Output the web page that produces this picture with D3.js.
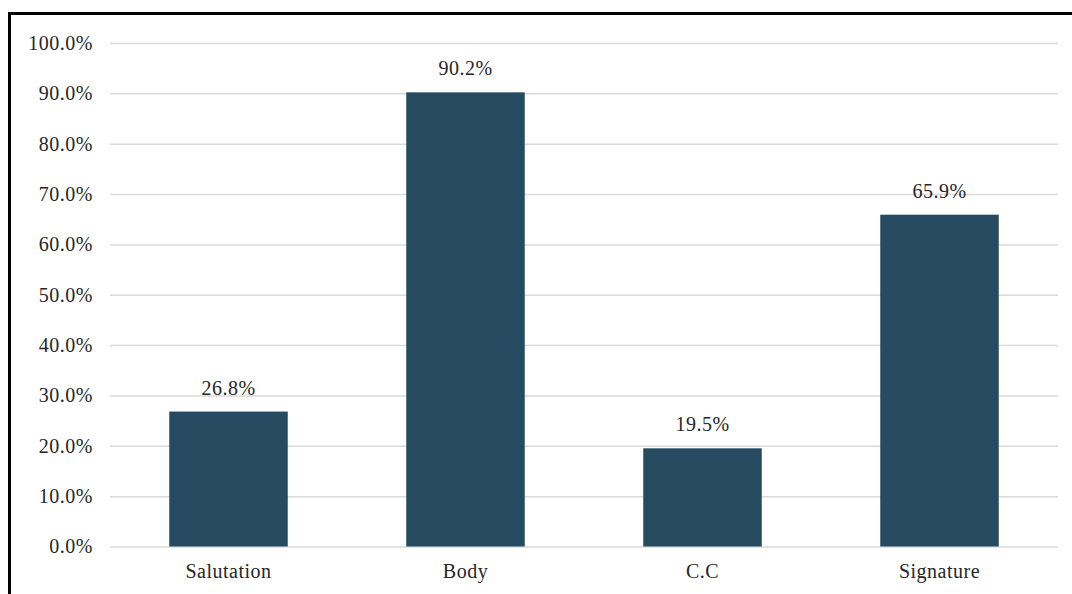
<!DOCTYPE html>
<html>
<head>
<meta charset="utf-8">
<script src="https://cdn.jsdelivr.net/npm/d3@7"></script>
<style>
  html, body { margin: 0; padding: 0; background: #fff; }
  svg { display: block; }
  text { font-family: "Liberation Serif", "Times New Roman", serif; }
</style>
</head>
<body>
<svg id="chart" width="1072" height="594"></svg>
<script>
// Share of items containing each letter part
const categories = ["Salutation", "Body", "C.C", "Signature"];
const values = [26.8, 90.2, 19.5, 65.9];
const tickValues = [0, 10, 20, 30, 40, 50, 60, 70, 80, 90, 100];

const svg = d3.select("#chart");
const margin = { left: 110, right: 14, top: 43, bottom: 47.5 };
const W = 1072, H = 594;
const fontSize = 20, spacing = "0.5px";

// frame around the chart area (left and top edges fall inside the page)
svg.append("rect")
  .attr("x", 9.5).attr("y", 13.5)
  .attr("width", 1100).attr("height", 700)
  .attr("fill", "none").attr("stroke", "#000").attr("stroke-width", 3);

const x = d3.scaleBand()
  .domain(categories)
  .range([margin.left, W - margin.right])
  .paddingInner(0.5).paddingOuter(0.25);

const y = d3.scaleLinear()
  .domain([0, 100])
  .range([H - margin.bottom, margin.top]);

// horizontal gridlines
const yAxis = d3.axisLeft(y)
  .tickValues(tickValues)
  .tickSize(-(W - margin.right - margin.left))
  .tickPadding(17)
  .tickFormat(d => d.toFixed(1) + "%");

const gy = svg.append("g")
  .attr("transform", `translate(${margin.left},0)`)
  .call(yAxis);
gy.select(".domain").remove();
gy.selectAll(".tick line").attr("stroke", "#d9d9d9").attr("stroke-width", 1.5);
gy.selectAll(".tick text")
  .attr("fill", "#262626")
  .attr("font-size", fontSize)
  .attr("letter-spacing", spacing);

// bars
svg.append("g").selectAll("rect")
  .data(categories)
  .join("rect")
  .attr("x", d => x(d))
  .attr("width", x.bandwidth())
  .attr("y", (d, i) => y(values[i]))
  .attr("height", (d, i) => y(0) - y(values[i]))
  .attr("fill", "#264b60");

// value labels
svg.append("g").selectAll("text")
  .data(categories)
  .join("text")
  .attr("x", d => x(d) + x.bandwidth() / 2)
  .attr("y", (d, i) => y(values[i]) - 17)
  .attr("text-anchor", "middle")
  .attr("font-size", fontSize)
  .attr("letter-spacing", spacing)
  .attr("fill", "#262626")
  .text((d, i) => values[i].toFixed(1) + "%");

// category axis
const xAxis = d3.axisBottom(x).tickSize(0).tickPadding(17);
const gx = svg.append("g")
  .attr("transform", `translate(0,${y(0)})`)
  .call(xAxis);
gx.select(".domain").remove();
gx.selectAll(".tick text")
  .attr("fill", "#262626")
  .attr("font-size", fontSize)
  .attr("letter-spacing", spacing);
</script>
</body>
</html>
